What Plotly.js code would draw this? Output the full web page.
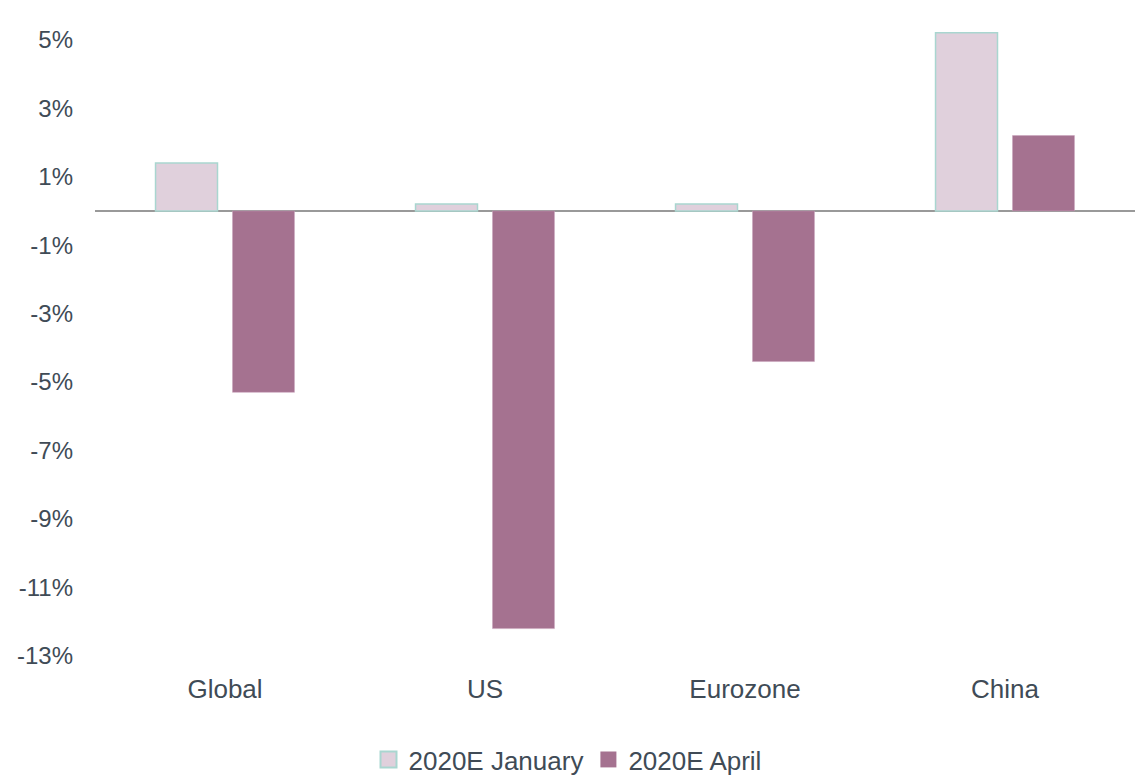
<!DOCTYPE html>
<html>
<head>
<meta charset="utf-8">
<script src="https://cdn.plot.ly/plotly-3.0.1.min.js"></script>
<style>html,body{margin:0;padding:0;background:#fff;}#chart{width:1135px;height:775px;}</style>
</head>
<body>
<div id="chart"></div>
<script>
const categories = ["Global", "US", "Eurozone", "China"];
const january = [1.4, 0.2, 0.2, 5.2];
const april = [-5.3, -12.2, -4.4, 2.2];
const seriesNames = ["2020E January", "2020E April"];
const tickValues = [5, 3, 1, -1, -3, -5, -7, -9, -11, -13];
const tickLabels = ["5%", "3%", "1%", "-1%", "-3%", "-5%", "-7%", "-9%", "-11%", "-13%"];

const textColor = "#404b56";
const fam = "'Liberation Sans', Arial, sans-serif";
const font = {family: fam, size: 24, color: textColor};
const bigFont = {family: fam, size: 26, color: textColor};

const janStyle = {color: "#e0d0dc", line: {color: "#a9d6d0", width: 1.5}};
const aprStyle = {color: "#a57290", line: {color: "#c9a3bb", width: 0.5}};

const traces = [
  {type: "bar", name: seriesNames[0], x: categories, y: january, marker: janStyle, showlegend: false, hoverinfo: "skip"},
  {type: "bar", name: seriesNames[1], x: categories, y: april, marker: aprStyle, showlegend: false, hoverinfo: "skip"},
  {type: "scatter", mode: "markers", name: seriesNames[0], x: [null], y: [null],
   marker: {symbol: "square", size: 16, color: janStyle.color, line: {color: "#a9d6d0", width: 2}}, hoverinfo: "skip"},
  {type: "scatter", mode: "markers", name: seriesNames[1], x: [null], y: [null],
   marker: {symbol: "square", size: 16, color: aprStyle.color, line: {color: aprStyle.color, width: 0}}, hoverinfo: "skip"}
];

const layout = {
  width: 1135, height: 775,
  margin: {l: 95, r: 0, t: 26, b: 119},
  paper_bgcolor: "#ffffff", plot_bgcolor: "#ffffff",
  font: font,
  barmode: "group",
  bargap: 0.408,
  bargroupgap: 0.195,
  showlegend: true,
  legend: {
    orientation: "h", xref: "container", yref: "container",
    x: 0.5, xanchor: "center", y: 0.02, yanchor: "middle",
    font: bigFont, itemclick: false, traceorder: "normal", itemwidth: 30
  },
  xaxis: {
    type: "category", range: [-0.5, 3.5],
    showgrid: false, showline: false, zeroline: false, ticks: "",
    tickfont: bigFont, ticklabelstandoff: 15
  },
  yaxis: {
    range: [-13, 5.4], tickvals: tickValues, ticktext: tickLabels,
    showgrid: false, showline: false, ticks: "",
    zeroline: true, zerolinecolor: "#999999", zerolinewidth: 2,
    tickfont: font, ticklabelstandoff: 21
  }
};

Plotly.newPlot("chart", traces, layout, {displayModeBar: false, staticPlot: true});
</script>
</body>
</html>
